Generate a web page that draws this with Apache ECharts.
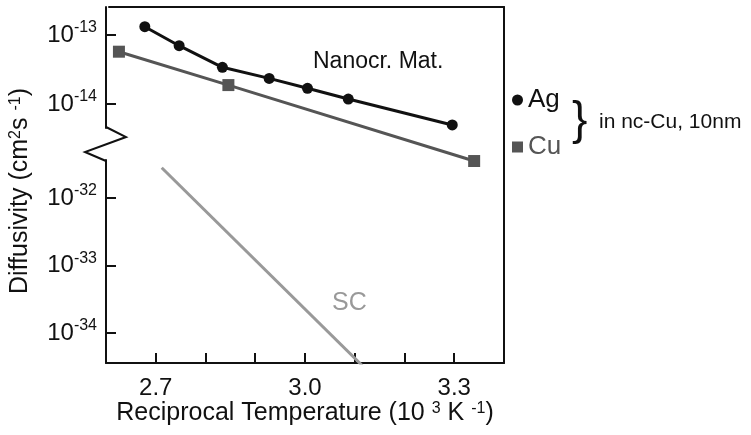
<!DOCTYPE html>
<html>
<head>
<meta charset="utf-8">
<script src="https://cdn.jsdelivr.net/npm/echarts@6/dist/echarts.min.js"></script>
<style>
  html, body { margin: 0; padding: 0; background: #fff; }
  #chart { width: 751px; height: 435px; }
</style>
</head>
<body>
<div id="chart"></div>
<script>
// Ag in nc-Cu (black circles)
var agX = [2.678, 2.747, 2.834, 2.928, 3.005, 3.087, 3.296];
var agD = [1.32e-13, 7.0e-14, 3.4e-14, 2.35e-14, 1.69e-14, 1.18e-14, 4.97e-15];
// Cu in nc-Cu (grey squares)
var cuX = [2.626, 2.846, 3.340];
var cuD = [5.73e-14, 1.88e-14, 1.49e-15];
// single crystal line
var scX = [2.712, 3.115];
var scD = [2.81e-32, 3.3e-35];
// ticks
var xLabels = [2.7, 3.0, 3.3];
var yTopTicks = [1e-13, 1e-14];
var yLowExp = [-32, -33, -34];

function pairs(xs, ys) {
  return xs.map(function (x, i) { return [x, ys[i]]; });
}

var FONT = '"Liberation Sans", Arial, sans-serif';
var chart = echarts.init(document.getElementById('chart'));

var powRich = {
  b: { fontSize: 24, fontFamily: FONT, color: '#111', lineHeight: 30 },
  s: { fontSize: 16, fontFamily: FONT, color: '#111', lineHeight: 16, verticalAlign: 'top' }
};
var supRich = { s: { fontSize: 16, fontFamily: FONT, color: '#111', verticalAlign: 'top', lineHeight: 16 } };
var axLine = { show: true, onZero: false, lineStyle: { color: '#111', width: 2 } };
var axTick = { show: true, inside: true, length: 10, lineStyle: { color: '#111', width: 2 } };

// upper part: 10^-12.594 .. 10^-14.348
// lower part: 10^-31.437 .. 10^-34.444 (a value axis in exponents carries the ticks,
// the log axis beside it only places the line; both share the same extent)
var lowLo = -34.444, lowHi = -31.437;

var option = {
  animation: false,
  grid: [
    { left: 106, right: 247, top: 7, height: 121 },
    { left: 106, right: 247, top: 160, height: 203 },
    { left: 106, right: 247, top: 7, height: 356 }
  ],
  xAxis: [
    { type: 'value', gridIndex: 0, min: 2.6, max: 3.4, show: false },
    {
      type: 'value', gridIndex: 1, min: 2.6, max: 3.4, interval: 0.1,
      axisLine: axLine, axisTick: axTick,
      axisLabel: {
        customValues: xLabels, margin: 13, color: '#111', fontSize: 24, fontFamily: FONT,
        formatter: function (v) { return v.toFixed(1); }
      },
      splitLine: { show: false },
      name: 'Reciprocal Temperature (10 {s|3} K {s|-1})',
      nameLocation: 'middle', nameGap: 35,
      nameTextStyle: { color: '#111', fontSize: 25, fontFamily: FONT, rich: supRich }
    },
    {
      type: 'value', gridIndex: 2, position: 'top', min: 0, max: 1,
      axisLine: axLine, axisTick: { show: false }, axisLabel: { show: false }, splitLine: { show: false }
    }
  ],
  yAxis: [
    {
      type: 'log', gridIndex: 0,
      min: Math.pow(10, -14.348), max: Math.pow(10, -12.594),
      axisLine: axLine,
      axisTick: Object.assign({ customValues: yTopTicks }, axTick),
      axisLabel: {
        customValues: yTopTicks, margin: 9, rich: powRich,
        formatter: function (v) { return '{b|10}{s|' + Math.round(Math.log(v) / Math.LN10) + '}'; }
      },
      splitLine: { show: false }, minorTick: { show: false }
    },
    {
      type: 'log', gridIndex: 1, show: false,
      min: Math.pow(10, lowLo), max: Math.pow(10, lowHi)
    },
    {
      type: 'value', gridIndex: 2, position: 'right', min: 0, max: 1,
      axisLine: axLine, axisTick: { show: false }, axisLabel: { show: false }, splitLine: { show: false }
    },
    {
      type: 'value', gridIndex: 2, position: 'left', min: 0, max: 1,
      axisLine: { show: false }, axisTick: { show: false }, axisLabel: { show: false }, splitLine: { show: false },
      name: 'Diffusivity (cm{s|2}s {s|-1})',
      nameLocation: 'middle', nameGap: 76, nameRotate: 90,
      nameTextStyle: { color: '#111', fontSize: 25, fontFamily: FONT, rich: supRich, padding: [0, 12, 0, 0] }
    },
    {
      type: 'value', gridIndex: 1, position: 'left', min: lowLo, max: lowHi,
      axisLine: axLine,
      axisTick: Object.assign({ customValues: yLowExp }, axTick),
      axisLabel: {
        customValues: yLowExp, margin: 9, rich: powRich,
        formatter: function (v) { return '{b|10}{s|' + Math.round(v) + '}'; }
      },
      splitLine: { show: false }
    }
  ],
  legend: {
    orient: 'vertical', left: 507, top: 82, itemGap: 21,
    itemWidth: 11, itemHeight: 11,
    textStyle: { fontSize: 26, fontFamily: FONT },
    data: [
      { name: 'Ag', icon: 'circle', textStyle: { color: '#111' } },
      { name: 'Cu', icon: 'rect', textStyle: { color: '#555' } }
    ]
  },
  graphic: [
    { type: 'polyline', silent: true, shape: { points: [[106, 127], [126, 137], [85, 152], [106, 161]] },
      style: { stroke: '#111', lineWidth: 2, fill: null } },
    { type: 'text', x: 313, y: 62, style: { text: 'Nanocr. Mat.', fontSize: 23, fontFamily: FONT, fill: '#111', verticalAlign: 'middle' } },
    { type: 'text', x: 332, y: 303, style: { text: 'SC', fontSize: 25, fontFamily: FONT, fill: '#999', verticalAlign: 'middle' } },
    { type: 'text', x: 572, y: 121, style: { text: '}', fontSize: 46, fontFamily: FONT, fill: '#111', verticalAlign: 'middle' } },
    { type: 'text', x: 599, y: 122, style: { text: 'in nc-Cu, 10nm', fontSize: 21, fontFamily: FONT, fill: '#111', verticalAlign: 'middle' } }
  ],
  series: [
    {
      name: 'Cu', type: 'line', xAxisIndex: 0, yAxisIndex: 0, clip: false,
      data: pairs(cuX, cuD), symbol: 'rect', symbolSize: 12,
      lineStyle: { color: '#555', width: 3 }, itemStyle: { color: '#555' }
    },
    {
      name: 'Ag', type: 'line', xAxisIndex: 0, yAxisIndex: 0, clip: false,
      data: pairs(agX, agD), symbol: 'circle', symbolSize: 11,
      lineStyle: { color: '#111', width: 3 }, itemStyle: { color: '#111' }
    },
    {
      name: 'SC', type: 'line', xAxisIndex: 1, yAxisIndex: 1, clip: true,
      data: pairs(scX, scD), symbol: 'none',
      lineStyle: { color: '#999', width: 3 }
    }
  ]
};
chart.setOption(option);
</script>
</body>
</html>
